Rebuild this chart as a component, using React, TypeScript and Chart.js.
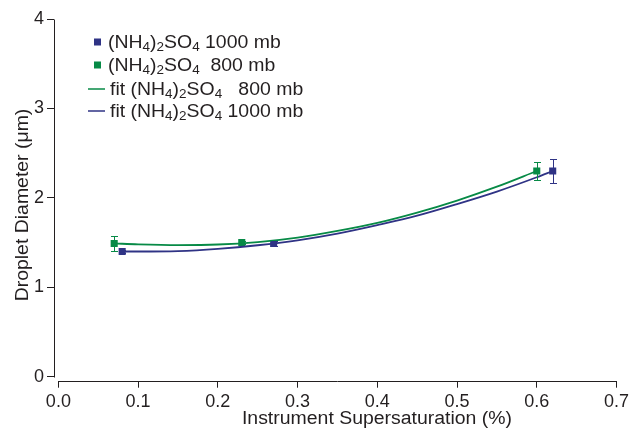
import React, { useEffect, useRef } from "react";
import { Chart, registerables } from "chart.js";

Chart.register(...registerables);

// Axis ticks
const xTicks = [0, 0.1, 0.2, 0.3, 0.4, 0.5, 0.6, 0.7];
const yTicks = [0, 1, 2, 3, 4];

// Measured droplet diameters, (NH4)2SO4 at 1000 mb
const s1000X = [0.08, 0.27, 0.62];
const s1000Y = [1.4, 1.49, 2.3];
const s1000Err = [0.02, 0.03, 0.13];

// Measured droplet diameters, (NH4)2SO4 at 800 mb
const s800X = [0.07, 0.23, 0.6];
const s800Y = [1.49, 1.5, 2.3];
const s800Err = [0.08, 0.02, 0.1];

// Fitted curves
const fit800X = [0.07, 0.1, 0.15, 0.2, 0.25, 0.3, 0.35, 0.4, 0.45, 0.5, 0.55, 0.6];
const fit800Y = [1.49, 1.48, 1.472, 1.478, 1.505, 1.555, 1.63, 1.72, 1.835, 1.97, 2.125, 2.3];
const fit1000X = [0.08, 0.1, 0.15, 0.2, 0.25, 0.3, 0.35, 0.4, 0.45, 0.5, 0.55, 0.6, 0.62];
const fit1000Y = [1.4, 1.4, 1.405, 1.43, 1.47, 1.525, 1.6, 1.695, 1.8, 1.93, 2.07, 2.23, 2.3];

const BLUE = "#2f3385";
const GREEN = "#078a46";
const TEXT = "#231f20";
const AXIS = "#231f20";
const FONT = "'Liberation Sans', Arial, Helvetica, sans-serif";
const STRETCH = 1.08;

// Chemical formula pieces: [text, isSubscript]
const formula: [string, boolean][] = [
  ["(NH", false],
  ["4", true],
  [")", false],
  ["2", true],
  ["SO", false],
  ["4", true],
];

const legendRows = [
  { kind: "marker", color: BLUE, prefix: "", suffix: " 1000 mb" },
  { kind: "marker", color: GREEN, prefix: "", suffix: "  800 mb" },
  { kind: "line", color: GREEN, prefix: "fit ", suffix: "   800 mb" },
  { kind: "line", color: BLUE, prefix: "fit ", suffix: " 1000 mb" },
];

const pts = (xs: number[], ys: number[]) => xs.map((x, i) => ({ x, y: ys[i] }));

// Writes text slightly widened, returns the advance in pixels
function wideText(ctx: CanvasRenderingContext2D, text: string, x: number, y: number): number {
  ctx.save();
  ctx.translate(x, y);
  ctx.scale(STRETCH, 1);
  ctx.fillText(text, 0, 0);
  const w = ctx.measureText(text).width * STRETCH;
  ctx.restore();
  return w;
}

const errorBarPlugin = {
  id: "errorBars",
  afterDatasetsDraw(chart: any) {
    const { ctx, scales } = chart;
    const sets = [
      { xs: s800X, ys: s800Y, es: s800Err, color: GREEN },
      { xs: s1000X, ys: s1000Y, es: s1000Err, color: BLUE },
    ];
    ctx.save();
    ctx.lineWidth = 1;
    for (const s of sets) {
      ctx.strokeStyle = s.color;
      s.xs.forEach((xv, i) => {
        const px = Math.round(scales.x.getPixelForValue(xv)) + 0.5;
        const top = Math.round(scales.y.getPixelForValue(s.ys[i] + s.es[i])) + 0.5;
        const bot = Math.round(scales.y.getPixelForValue(s.ys[i] - s.es[i])) + 0.5;
        ctx.beginPath();
        ctx.moveTo(px, top);
        ctx.lineTo(px, bot);
        ctx.moveTo(px - 3.5, top);
        ctx.lineTo(px + 3.5, top);
        ctx.moveTo(px - 3.5, bot);
        ctx.lineTo(px + 3.5, bot);
        ctx.stroke();
      });
    }
    ctx.restore();
  },
};

const decorPlugin = {
  id: "decor",
  afterDraw(chart: any) {
    const { ctx, scales, chartArea } = chart;
    const xs = scales.x;
    const ys = scales.y;
    ctx.save();
    // offset axis lines
    ctx.strokeStyle = AXIS;
    ctx.lineWidth = 1;
    ctx.beginPath();
    const ax = Math.round(chartArea.left) + 0.5;
    ctx.moveTo(ax, Math.round(ys.getPixelForValue(yTicks[yTicks.length - 1])) + 0.5);
    ctx.lineTo(ax, Math.round(ys.getPixelForValue(yTicks[0])) + 0.5);
    const ay = Math.round(chartArea.bottom) + 0.5;
    ctx.moveTo(Math.round(xs.getPixelForValue(xTicks[0])) + 0.5, ay);
    ctx.lineTo(Math.round(xs.getPixelForValue(xTicks[xTicks.length - 1])) + 0.5, ay);
    ctx.stroke();

    // axis titles
    ctx.fillStyle = TEXT;
    ctx.font = `18px ${FONT}`;
    ctx.textAlign = "center";
    ctx.textBaseline = "alphabetic";
    wideText(ctx, "Instrument Supersaturation (%)", 377, 424);
    ctx.save();
    ctx.translate(28, 205);
    ctx.rotate(-Math.PI / 2);
    wideText(ctx, "Droplet Diameter (\u03bcm)", 0, 0);
    ctx.restore();

    // legend
    const baselines = [48, 71, 95, 117];
    legendRows.forEach((row, i) => {
      const b = baselines[i];
      if (row.kind === "marker") {
        ctx.fillStyle = row.color;
        ctx.fillRect(94, b - 9.5, 7, 7);
      } else {
        ctx.strokeStyle = row.color;
        ctx.lineWidth = 1.5;
        ctx.beginPath();
        ctx.moveTo(88, b - 6);
        ctx.lineTo(105, b - 6);
        ctx.stroke();
      }
      ctx.fillStyle = TEXT;
      ctx.textAlign = "left";
      let x = row.kind === "marker" ? 108 : 110;
      ctx.font = `18px ${FONT}`;
      if (row.prefix) x += wideText(ctx, row.prefix, x, b);
      for (const [t, sub] of formula) {
        ctx.font = sub ? `12.5px ${FONT}` : `18px ${FONT}`;
        x += wideText(ctx, t, x, sub ? b + 3 : b);
      }
      ctx.font = `18px ${FONT}`;
      wideText(ctx, row.suffix, x, b);
    });
    ctx.restore();
  },
};

export default function App() {
  const ref = useRef<HTMLCanvasElement>(null);

  useEffect(() => {
    document.body.style.margin = "0";
    if (!ref.current) return;
    const chart = new Chart(ref.current, {
      type: "scatter",
      data: {
        datasets: [
          {
            label: "fit 800 mb",
            data: pts(fit800X, fit800Y),
            showLine: true,
            borderColor: GREEN,
            borderWidth: 1.8,
            pointRadius: 0,
            cubicInterpolationMode: "monotone",
          },
          {
            label: "fit 1000 mb",
            data: pts(fit1000X, fit1000Y),
            showLine: true,
            borderColor: BLUE,
            borderWidth: 1.8,
            pointRadius: 0,
            cubicInterpolationMode: "monotone",
          },
          {
            label: "800 mb",
            data: pts(s800X, s800Y),
            pointStyle: "rect",
            pointRadius: 5,
            backgroundColor: GREEN,
            borderColor: GREEN,
            borderWidth: 0,
          },
          {
            label: "1000 mb",
            data: pts(s1000X, s1000Y),
            pointStyle: "rect",
            pointRadius: 5,
            backgroundColor: BLUE,
            borderColor: BLUE,
            borderWidth: 0,
          },
        ],
      },
      options: {
        animation: false,
        responsive: true,
        maintainAspectRatio: false,
        layout: { padding: { left: 34, right: 14.7, top: 19, bottom: 18.3 } },
        plugins: { legend: { display: false }, tooltip: { enabled: false } },
        scales: {
          x: {
            type: "linear",
            min: -0.0055,
            max: 0.7,
            afterBuildTicks: (s: any) => {
              s.ticks = xTicks.map((v) => ({ value: v }));
            },
            afterFit: (s: any) => {
              s.height = 30;
            },
            ticks: {
              callback: (v: any) => Number(v).toFixed(1),
              font: { family: FONT, size: 18 },
              color: TEXT,
              padding: 4,
              maxRotation: 0,
              autoSkip: false,
            },
            grid: { drawOnChartArea: false, drawTicks: true, tickLength: 7, color: AXIS, lineWidth: 1 },
            border: { display: false },
          },
          y: {
            type: "linear",
            min: -0.045,
            max: 4,
            afterBuildTicks: (s: any) => {
              s.ticks = yTicks.map((v) => ({ value: v }));
            },
            afterFit: (s: any) => {
              s.width = 20;
            },
            ticks: {
              callback: (v: any) => String(v),
              font: { family: FONT, size: 18 },
              color: TEXT,
              padding: 3,
              autoSkip: false,
            },
            grid: { drawOnChartArea: false, drawTicks: true, tickLength: 7, color: AXIS, lineWidth: 1 },
            border: { display: false },
          },
        },
      },
      plugins: [errorBarPlugin, decorPlugin],
    });
    return () => chart.destroy();
  }, []);

  return (
    <div style={{ position: "fixed", left: 0, top: 0, width: 633, height: 429, background: "#fff" }}>
      <canvas ref={ref} />
    </div>
  );
}
